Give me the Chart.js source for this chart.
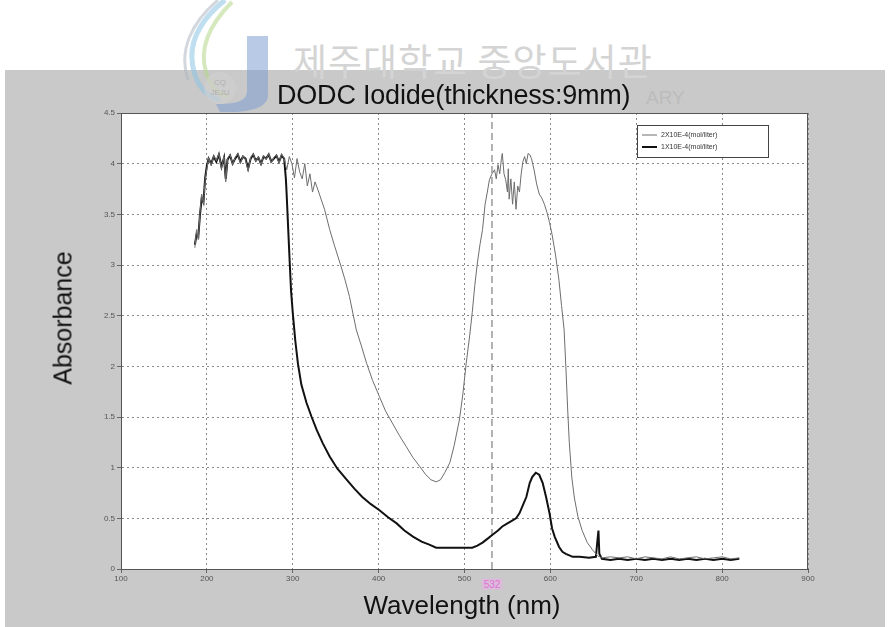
<!DOCTYPE html>
<html>
<head>
<meta charset="utf-8">
<script src="https://cdn.jsdelivr.net/npm/chart.js@4.4.1/dist/chart.umd.min.js"></script>
<style>
  html, body { margin: 0; padding: 0; background: #fff; }
  #wrap { position: relative; width: 889px; height: 627px; overflow: hidden; font-family: "Liberation Sans", Arial, sans-serif; }
  #panel { position: absolute; left: 5px; top: 70px; width: 880px; height: 557px; background: #c9c9c9; }
  #chart { position: absolute; left: 0; top: 0; }
  .txt { position: absolute; white-space: nowrap; }
  #wm { left: 293px; top: 33px; font: 37px "Noto Sans CJK KR", sans-serif; color: #d4d4d4; letter-spacing: 1px; }
  #wm2 { left: 646px; top: 87px; font: 19px "Liberation Sans", sans-serif; color: #bcbcbc; }
  #title { left: 277px; top: 80px; font: 27px "Liberation Sans", Arial, sans-serif; color: #111; letter-spacing: -0.2px; }
  #ytitle { left: 63px; top: 318px; font: 25px "Liberation Sans", Arial, sans-serif; color: #111; transform: translate(-50%, -50%) rotate(-90deg); }
  #xtitle { left: 462px; top: 605px; font: 26px "Liberation Sans", Arial, sans-serif; color: #111; transform: translate(-50%, -50%); }
  #laser { left: 492px; top: 584px; font: 10px "Liberation Sans", Arial, sans-serif; color: #e070d8; background: rgba(240,170,235,0.45); padding: 0 2px; transform: translate(-50%, -50%); }
  #logo { position: absolute; left: 180px; top: 0; opacity: 0.55; }
</style>
</head>
<body>
<div id="wrap">
  <div id="panel"></div>
  <div class="txt" id="wm">제주대학교 중앙도서관</div>
  <div class="txt" id="wm2">ARY</div>
  <svg id="logo" width="100" height="115" viewBox="0 0 100 115">
    <path d="M45 0 C20 20, 5 45, 15 75 C20 90, 30 98, 40 100" fill="none" stroke="#8cc6e6" stroke-width="5"/>
    <path d="M52 2 C32 22, 18 45, 26 72 C30 86, 38 94, 48 97" fill="none" stroke="#b6d88a" stroke-width="4"/>
    <path d="M38 0 C12 22, -2 50, 8 80" fill="none" stroke="#b0b8c4" stroke-width="3"/>
    <path d="M67 36 L88 36 L88 95 C88 108, 70 113, 40 112 L36 104 C60 104, 67 100, 67 90 Z" fill="#7f9fd2"/>
    <circle cx="40" cy="88" r="16" fill="#d8d8d8" opacity="0.6"/>
    <text x="40" y="85" font-size="8" text-anchor="middle" fill="#9a9a9a" font-family="Liberation Sans">CQ</text>
    <text x="40" y="95" font-size="8" text-anchor="middle" fill="#9a9a9a" font-family="Liberation Sans">JEJU</text>
  </svg>
  <canvas id="chart" width="889" height="627"></canvas>
  <div class="txt" id="title">DODC Iodide(thickness:9mm)</div>
  <div class="txt" id="ytitle">Absorbance</div>
  <div class="txt" id="xtitle">Wavelength (nm)</div>
  <div class="txt" id="laser">532</div>
</div>
<script>
// 2X10E-4 (mol/liter) — thin grey trace
const wlHigh = [186, 188, 190, 192, 194, 196, 198, 200, 202, 205, 208, 211, 214, 217, 220, 222, 224, 227, 230, 233,
  236, 239, 242, 245, 248, 251, 254, 257, 260, 263, 266, 269, 272, 275, 278, 281, 284, 287, 290, 293,
  296, 299, 302, 305, 308, 311, 314, 317, 320, 323, 326, 329, 331, 337, 343, 349, 355, 361, 366, 374,
  380, 386, 393, 401, 408, 416, 424, 432, 440, 448, 455, 461, 467, 472, 477, 483, 488, 494, 498, 502,
  506, 509, 512, 515, 518, 521, 524, 527, 529, 532, 535, 537, 539, 541, 543, 544, 546, 548, 550, 551,
  552, 554, 556, 558, 560, 562, 564, 566, 568, 570, 572, 574, 576, 578, 581, 584, 587, 590, 593, 596,
  599, 602, 606, 610, 613, 616, 618, 620, 622, 625, 628, 632, 637, 643, 649, 655, 660, 670, 680, 690,
  700, 710, 720, 730, 740, 750, 760, 770, 780, 790, 800, 810, 820];
const absHigh = [3.17, 3.35, 3.25, 3.52, 3.7, 3.6, 3.84, 3.95, 4.06, 3.98, 4.08, 4.03, 4.1, 3.95, 4.07, 3.82, 4.05, 4.09, 3.99, 4.06,
  4.1, 4.0, 4.08, 4.04, 3.93, 4.06, 4.1, 4.02, 4.07, 3.99, 4.08, 4.04, 4.1, 4.01, 4.06, 4.09, 4.0, 4.1, 4.05, 3.94,
  4.07, 4.0, 3.86, 4.05, 3.92, 3.85, 4.0, 3.78, 3.9, 3.72, 3.82, 3.75, 3.7, 3.55, 3.35, 3.18, 3.02, 2.85, 2.69, 2.36,
  2.2, 2.03, 1.86, 1.7, 1.56, 1.44, 1.32, 1.21, 1.1, 1.01, 0.93, 0.88, 0.86, 0.88, 0.95, 1.05, 1.22, 1.47, 1.72, 2.03,
  2.3, 2.53, 2.8, 3.02, 3.2, 3.35, 3.6, 3.74, 3.84, 3.9, 3.94, 3.85, 3.99, 3.9, 4.05, 4.1, 3.9, 3.84, 3.72, 3.95,
  3.65, 3.85, 3.6, 3.82, 3.55, 3.78, 3.72, 3.9, 4.02, 4.07, 4.0, 4.1, 4.09, 4.05, 3.94, 3.8, 3.7, 3.66, 3.6, 3.52,
  3.42, 3.3, 3.1, 2.85, 2.6, 2.36, 2.0, 1.6, 1.25, 0.9, 0.7, 0.52, 0.38, 0.26, 0.19, 0.13, 0.11, 0.12, 0.11, 0.12,
  0.1, 0.12, 0.11, 0.1, 0.12, 0.1, 0.11, 0.12, 0.1, 0.11, 0.12, 0.1, 0.11];

// 1X10E-4 (mol/liter) — thick black trace
const wlLow = [186, 188, 190, 192, 194, 196, 198, 200, 202, 205, 208, 211, 214, 217, 220, 222, 224, 227, 230, 233,
  236, 239, 242, 245, 248, 251, 254, 257, 260, 263, 266, 269, 272, 275, 278, 281, 284, 287, 290, 292,
  293, 295, 296.5, 298, 300, 303, 306, 310, 316, 322, 328, 335, 343, 352, 363, 372, 381, 391, 401, 411,
  421, 430, 440, 450, 459, 467, 480, 495, 509, 515, 521, 527, 533, 539, 544, 550, 556, 560, 564, 568,
  572, 576, 579, 583, 587, 591, 595, 599, 602, 605, 610, 614, 618, 626, 634, 645, 653, 655, 656, 657,
  660, 670, 680, 690, 700, 710, 720, 730, 740, 750, 760, 770, 780, 790, 800, 810, 820];
const absLow = [3.2, 3.3, 3.28, 3.5, 3.66, 3.62, 3.86, 3.98, 4.05, 4.0, 4.07, 4.02, 4.09, 3.97, 4.06, 3.85, 4.04, 4.08, 4.0, 4.05,
  4.09, 4.02, 4.07, 4.05, 3.95, 4.05, 4.09, 4.03, 4.06, 4.0, 4.07, 4.05, 4.09, 4.02, 4.05, 4.08, 4.02, 4.08, 4.05, 3.85,
  3.68, 3.3, 3.02, 2.75, 2.53, 2.25, 2.03, 1.82, 1.64, 1.5, 1.37, 1.24, 1.11, 0.99, 0.88, 0.79, 0.71, 0.64, 0.58, 0.51,
  0.45, 0.38, 0.32, 0.27, 0.24, 0.21, 0.21, 0.21, 0.21, 0.23, 0.26, 0.3, 0.34, 0.38, 0.42, 0.45, 0.48, 0.5, 0.55, 0.63,
  0.71, 0.85, 0.91, 0.95, 0.93, 0.85, 0.71, 0.55, 0.4, 0.32, 0.22, 0.17, 0.15, 0.12, 0.12, 0.11, 0.12, 0.3, 0.38, 0.15,
  0.1, 0.09, 0.1, 0.09, 0.1, 0.09, 0.1, 0.09, 0.1, 0.09, 0.1, 0.09, 0.1, 0.09, 0.1, 0.09, 0.1];

const seriesLabels = ["2X10E-4(mol/liter)", "1X10E-4(mol/liter)"];
const laserWl = 532;
const xMin = 100, xMax = 900, xStep = 100;
const yMin = 0, yMax = 4.5, yStep = 0.5;

function toPoints(xs, ys) {
  return xs.map((x, i) => ({ x: x, y: ys[i] }));
}

// white plot area + frame
const frame = {
  id: "frame",
  beforeDraw(chart) {
    const a = chart.chartArea, ctx = chart.ctx;
    ctx.save();
    ctx.fillStyle = "#fff";
    ctx.fillRect(a.left, a.top, a.right - a.left, a.bottom - a.top);
    ctx.restore();
  },
  afterDraw(chart) {
    const a = chart.chartArea, ctx = chart.ctx;
    ctx.save();
    ctx.strokeStyle = "#555";
    ctx.lineWidth = 1;
    ctx.strokeRect(a.left + 0.5, a.top + 0.5, a.right - a.left - 1, a.bottom - a.top);
    ctx.restore();
  },
};

// legend box inside the plot, top-right
const boxLegend = {
  id: "boxLegend",
  afterDatasetsDraw(chart) {
    const a = chart.chartArea, ctx = chart.ctx;
    const sets = chart.data.datasets.filter((d) => !d.hideInLegend);
    const w = 131, h = 32;
    const x0 = a.right - w - 40, y0 = a.top + 12;
    ctx.save();
    ctx.fillStyle = "#fff";
    ctx.fillRect(x0, y0, w, h);
    ctx.strokeStyle = "#444";
    ctx.lineWidth = 1;
    ctx.strokeRect(x0 + 0.5, y0 + 0.5, w, h);
    ctx.font = "7px 'Liberation Sans', Arial, sans-serif";
    ctx.textBaseline = "middle";
    sets.forEach((d, i) => {
      const y = y0 + 10 + i * 12;
      ctx.strokeStyle = d.borderColor;
      ctx.lineWidth = d.borderWidth;
      ctx.beginPath();
      ctx.moveTo(x0 + 5, y);
      ctx.lineTo(x0 + 20, y);
      ctx.stroke();
      ctx.fillStyle = "#333";
      ctx.fillText(d.label, x0 + 24, y);
    });
    ctx.restore();
  },
};

const tickFont = { size: 8, family: "Liberation Sans" };

new Chart(document.getElementById("chart"), {
  type: "line",
  data: {
    datasets: [
      { label: seriesLabels[0], data: toPoints(wlHigh, absHigh), borderColor: "#6e6e6e", borderWidth: 1 },
      { label: seriesLabels[1], data: toPoints(wlLow, absLow), borderColor: "#111", borderWidth: 2 },
      {
        label: "532 nm", hideInLegend: true,
        data: [{ x: laserWl, y: yMin }, { x: laserWl, y: yMax }],
        borderColor: "#666", borderWidth: 1, borderDash: [7, 4],
      },
    ],
  },
  options: {
    responsive: false,
    animation: false,
    elements: { point: { radius: 0 }, line: { tension: 0 } },
    layout: { padding: { left: 0, top: 113, right: 81, bottom: 0 } },
    plugins: { legend: { display: false }, tooltip: { enabled: false } },
    scales: {
      x: {
        type: "linear", min: xMin, max: xMax,
        afterFit: (s) => { s.height = 58; },
        ticks: { stepSize: xStep, color: "#555", font: tickFont, padding: 1, maxRotation: 0 },
        grid: { color: "#8a8a8a", tickColor: "#666", tickLength: 4 },
        border: { color: "#555", dash: [2, 3] },
      },
      y: {
        type: "linear", min: yMin, max: yMax,
        afterFit: (s) => { s.width = 121; },
        ticks: { stepSize: yStep, color: "#555", font: tickFont, padding: 2, callback: (v) => String(v) },
        grid: { color: "#8a8a8a", tickColor: "#666", tickLength: 4 },
        border: { color: "#555", dash: [2, 3] },
      },
    },
  },
  plugins: [frame, boxLegend],
});
</script>
</body>
</html>
